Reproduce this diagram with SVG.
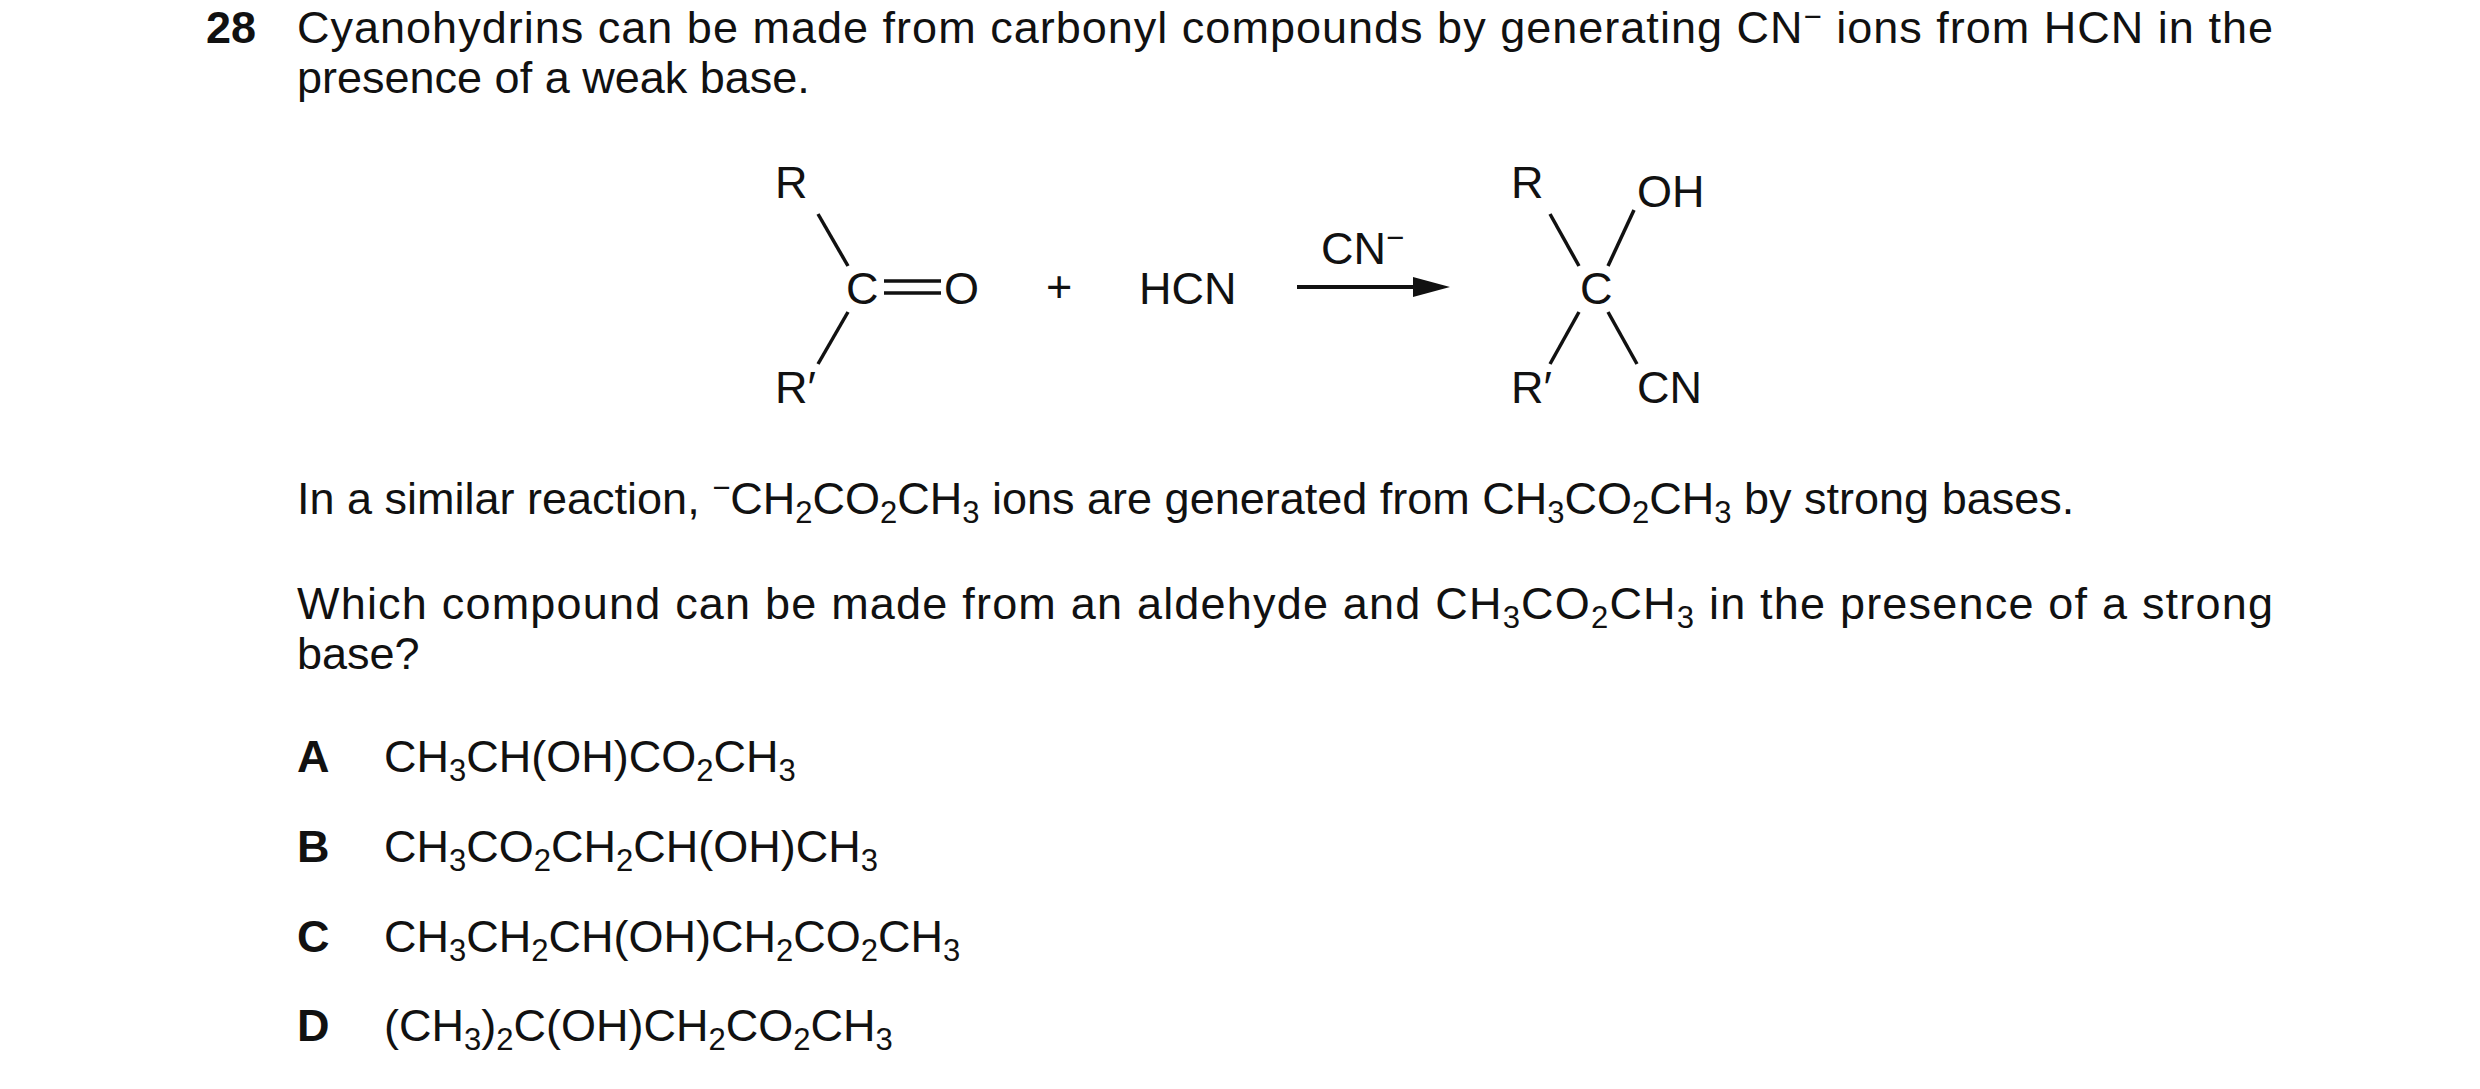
<svg xmlns="http://www.w3.org/2000/svg" width="2480" height="1089" viewBox="0 0 2480 1089">
<style>
text{font-family:"Liberation Sans",Arial,sans-serif;font-size:45px;fill:#111}
.b{font-weight:bold}
.s{font-size:31px;baseline-shift:-9px}
.p{font-size:31px;baseline-shift:16px}
line{stroke:#111;stroke-width:3.5}
</style>
<rect width="2480" height="1089" fill="#fff"/>
<g id="question">
<text class="b" x="206" y="43">28</text>
<text x="297" y="43" textLength="1976" lengthAdjust="spacing">Cyanohydrins can be made from carbonyl compounds by generating CN<tspan class="p">−</tspan> ions from HCN in the</text>
<text x="297" y="93">presence of a weak base.</text>
</g>
<g id="reactant">
<text x="775" y="198">R</text>
<line x1="818" y1="214" x2="848" y2="266"/>
<text x="846" y="304">C</text>
<line x1="884" y1="281" x2="941" y2="281"/>
<line x1="884" y1="293" x2="941" y2="293"/>
<text x="944" y="304">O</text>
<line x1="848" y1="312" x2="818" y2="364"/>
<text x="775" y="403">R′</text>
</g>
<g id="plus"><text x="1046" y="302">+</text></g>
<g id="hcn"><text x="1139" y="304">HCN</text></g>
<g id="connectors">
<line x1="1297" y1="287" x2="1420" y2="287" style="stroke-width:4"/>
<polygon points="1450,287 1413,277 1413,297" fill="#111"/>
<text x="1321" y="264">CN<tspan class="p">−</tspan></text>
</g>
<g id="product">
<text x="1511" y="198">R</text>
<text x="1637" y="207">OH</text>
<line x1="1550" y1="214" x2="1579" y2="266"/>
<line x1="1634" y1="210" x2="1608" y2="266"/>
<text x="1580" y="304">C</text>
<line x1="1579" y1="312" x2="1550" y2="364"/>
<line x1="1608" y1="312" x2="1637" y2="364"/>
<text x="1511" y="403">R′</text>
<text x="1637" y="403">CN</text>
</g>
<g id="text2">
<text x="297" y="514">In a similar reaction, <tspan class="p">−</tspan>CH<tspan class="s">2</tspan>CO<tspan class="s">2</tspan>CH<tspan class="s">3</tspan> ions are generated from CH<tspan class="s">3</tspan>CO<tspan class="s">2</tspan>CH<tspan class="s">3</tspan> by strong bases.</text>
<text x="297" y="619" textLength="1976" lengthAdjust="spacing">Which compound can be made from an aldehyde and CH<tspan class="s">3</tspan>CO<tspan class="s">2</tspan>CH<tspan class="s">3</tspan> in the presence of a strong</text>
<text x="297" y="669">base?</text>
</g>
<g id="options">
<text class="b" x="297" y="772">A</text>
<text x="384" y="772">CH<tspan class="s">3</tspan>CH(OH)CO<tspan class="s">2</tspan>CH<tspan class="s">3</tspan></text>
<text class="b" x="297" y="862">B</text>
<text x="384" y="862">CH<tspan class="s">3</tspan>CO<tspan class="s">2</tspan>CH<tspan class="s">2</tspan>CH(OH)CH<tspan class="s">3</tspan></text>
<text class="b" x="297" y="952">C</text>
<text x="384" y="952">CH<tspan class="s">3</tspan>CH<tspan class="s">2</tspan>CH(OH)CH<tspan class="s">2</tspan>CO<tspan class="s">2</tspan>CH<tspan class="s">3</tspan></text>
<text class="b" x="297" y="1041">D</text>
<text x="384" y="1041">(CH<tspan class="s">3</tspan>)<tspan class="s">2</tspan>C(OH)CH<tspan class="s">2</tspan>CO<tspan class="s">2</tspan>CH<tspan class="s">3</tspan></text>
</g>
</svg>
